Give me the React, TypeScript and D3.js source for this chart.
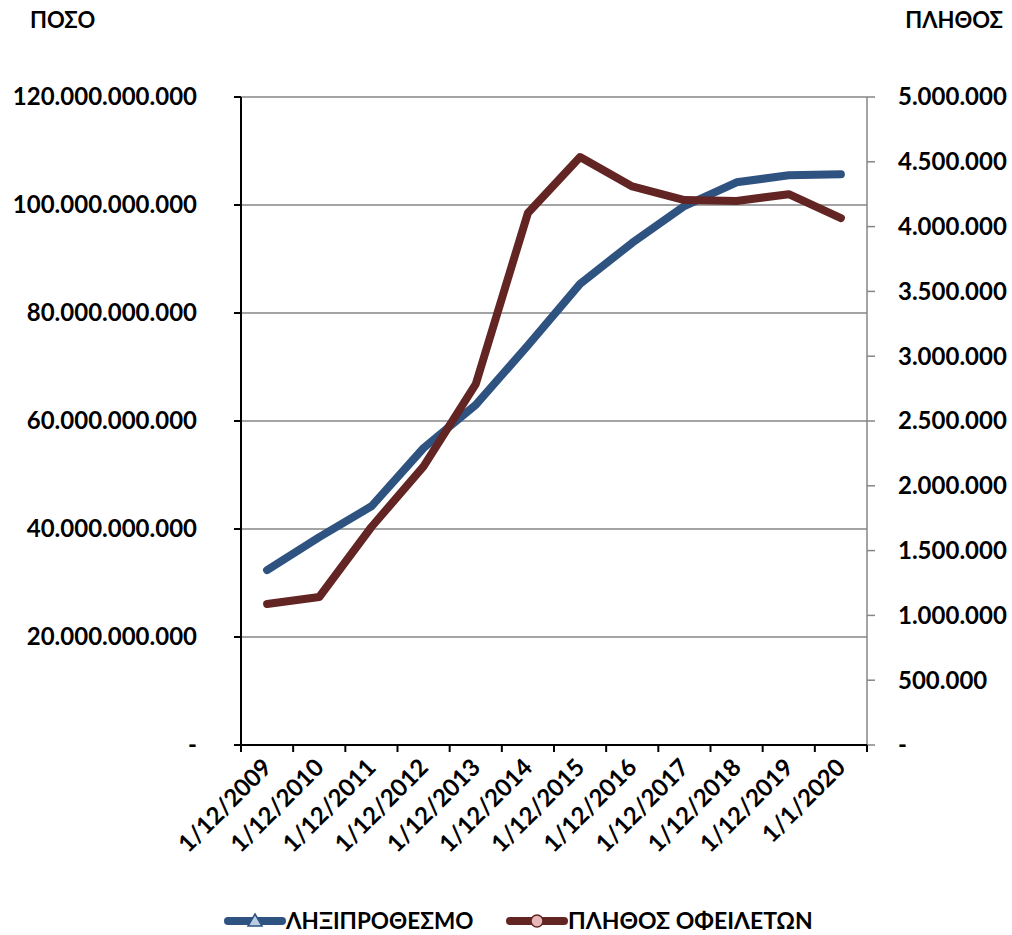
import React from "react";
import * as d3 from "d3";

const categories = ["1/12/2009","1/12/2010","1/12/2011","1/12/2012","1/12/2013","1/12/2014","1/12/2015","1/12/2016","1/12/2017","1/12/2018","1/12/2019","1/1/2020"];
const amountSeries = [32.4e9, 38.5e9, 44.2e9, 55.0e9, 63.0e9, 74.0e9, 85.4e9, 93.0e9, 99.8e9, 104.2e9, 105.5e9, 105.7e9];
const debtorSeries = [1088000, 1142000, 1682000, 2150000, 2785000, 4105000, 4537000, 4310000, 4205000, 4198000, 4250000, 4066000];
const leftTicks = [0, 20e9, 40e9, 60e9, 80e9, 100e9, 120e9];
const rightTicks = [0, 500000, 1000000, 1500000, 2000000, 2500000, 3000000, 3500000, 4000000, 4500000, 5000000];
const seriesNames = ["ΛΗΞΙΠΡΟΘΕΣΜΟ", "ΠΛΗΘΟΣ ΟΦΕΙΛΕΤΩΝ"];
const leftTitle = "ΠΟΣΟ";
const rightTitle = "ΠΛΗΘΟΣ";

const fmt = (v: number) => v === 0 ? "-" : d3.format(",")(v).replace(/,/g, ".");

export default function App() {
  const W = 1012, H = 935;
  const L = 241, R = 867, T = 97, B = 745;
  const x = d3.scaleBand<string>().domain(categories).range([L, R]);
  const yL = d3.scaleLinear().domain([0, 120e9]).range([B, T]);
  const yR = d3.scaleLinear().domain([0, 5e6]).range([B, T]);
  const cx = (c: string) => (x(c) as number) + x.bandwidth() / 2;
  const blue = "#2F5381";
  const red = "#632523";
  const font = "Lato, 'Open Sans', sans-serif";
  const fs = 24;
  const lineL = d3.line<number>().x((_, i) => cx(categories[i])).y(v => yL(v));
  const lineR = d3.line<number>().x((_, i) => cx(categories[i])).y(v => yR(v));
  const edges = [L, ...categories.map(c => (x(c) as number) + x.bandwidth())];
  return (
    <svg width={W} height={H} style={{ position: "absolute", left: 0, top: 0 }} fontFamily={font} fontWeight="bold">
      <rect width={W} height={H} fill="#fff" />
      {leftTicks.filter(t => t > 0).map(t => (
        <line key={t} x1={L} x2={R} y1={yL(t)} y2={yL(t)} stroke="#868686" strokeWidth={1.5} />
      ))}
      {/* left axis */}
      <line x1={L} x2={L} y1={T} y2={B} stroke="#000" strokeWidth={2} />
      {leftTicks.map(t => (
        <g key={t}>
          <line x1={L - 7} x2={L} y1={yL(t)} y2={yL(t)} stroke="#000" strokeWidth={2} />
          <text x={197} y={yL(t)} dy="0.35em" textAnchor="end" fontSize={fs} fill="#000">{fmt(t)}</text>
        </g>
      ))}
      {/* right axis */}
      <line x1={R} x2={R} y1={T} y2={B} stroke="#868686" strokeWidth={1.5} />
      {rightTicks.map(t => (
        <g key={t}>
          <line x1={R} x2={R + 8} y1={yR(t)} y2={yR(t)} stroke="#868686" strokeWidth={1.5} />
          <text x={898} y={yR(t)} dy="0.35em" textAnchor="start" fontSize={fs} fill="#000">{fmt(t)}</text>
        </g>
      ))}
      {/* bottom axis */}
      <line x1={L - 7} x2={R} y1={B} y2={B} stroke="#000" strokeWidth={2} />
      {edges.map((e, i) => (
        <line key={i} x1={e} x2={e} y1={B} y2={B + 7} stroke="#000" strokeWidth={2} />
      ))}
      {categories.map(c => (
        <text key={c} transform={`translate(${cx(c) + 6},${B + 24}) rotate(-45)`} textAnchor="end" fontSize={fs} fill="#000">{c}</text>
      ))}
      <path d={lineL(amountSeries) as string} fill="none" stroke={blue} strokeWidth={8} strokeLinecap="round" strokeLinejoin="round" />
      <path d={lineR(debtorSeries) as string} fill="none" stroke={red} strokeWidth={8} strokeLinecap="round" strokeLinejoin="round" />
      <text x={30} y={28} fontSize={22} fill="#000">{leftTitle}</text>
      <text x={1003} y={28} textAnchor="end" fontSize={22} fill="#000">{rightTitle}</text>
      {/* legend */}
      <g>
        <line x1={228} x2={282} y1={921} y2={921} stroke={blue} strokeWidth={8} strokeLinecap="round" />
        <path d="M255,914 L262,926 L248,926 Z" fill="#B9CDE5" stroke={blue} strokeWidth={1.5} />
        <text x={286} y={921} dy="0.36em" fontSize={22.5} fill="#000">{seriesNames[0]}</text>
        <line x1={510} x2={564} y1={921} y2={921} stroke={red} strokeWidth={8} strokeLinecap="round" />
        <circle cx={537} cy={921} r={6} fill="#E6B9B8" stroke={red} strokeWidth={1.5} />
        <text x={568} y={921} dy="0.36em" fontSize={23} fill="#000">{seriesNames[1]}</text>
      </g>
    </svg>
  );
}
